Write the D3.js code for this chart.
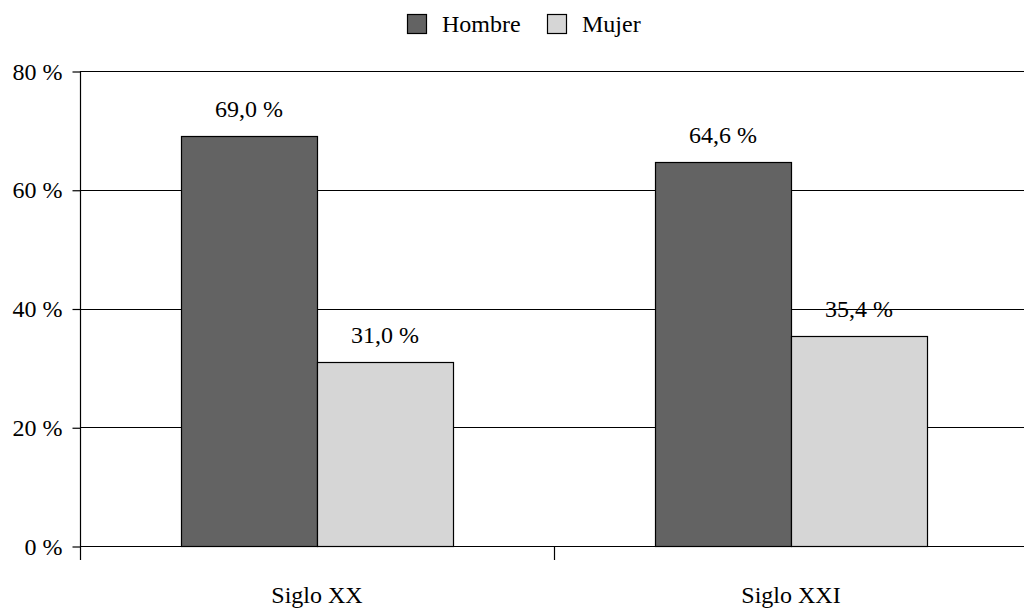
<!DOCTYPE html>
<html>
<head>
<meta charset="utf-8">
<script src="https://cdn.jsdelivr.net/npm/d3@7"></script>
<style>
  html, body { margin: 0; padding: 0; background: #fff; }
  svg { display: block; font-family: "Liberation Serif", "DejaVu Serif", serif; }
</style>
</head>
<body>
<svg id="chart" width="1024" height="611"></svg>
<script>
// Share of men and women by century
const categories = ["Siglo XX", "Siglo XXI"];
const seriesNames = ["Hombre", "Mujer"];
const hombre = [69.0, 64.6];
const mujer = [31.0, 35.4];
const yTicks = [0, 20, 40, 60, 80];
const colors = { Hombre: "#636363", Mujer: "#d6d6d6" };

const svg = d3.select("#chart");
const W = 1024, H = 611;
const plotLeft = 80, plotRight = 1028, plotTop = 71, plotBottom = 546;
const fontSize = 24;
const fmt = v => v.toFixed(1).replace(".", ",") + " %";

const x = d3.scaleBand().domain(categories).range([plotLeft, plotRight]).paddingInner(0).paddingOuter(0);
const inner = d3.scaleBand().domain(seriesNames).range([0, x.bandwidth()]).paddingInner(0).paddingOuter(0.7426);
const y = d3.scaleLinear().domain([0, 80]).range([plotBottom, plotTop]);

// Horizontal gridlines
svg.append("g").selectAll("line").data(yTicks).join("line")
  .attr("x1", plotLeft).attr("x2", W)
  .attr("y1", d => Math.round(y(d)) + 0.5).attr("y2", d => Math.round(y(d)) + 0.5)
  .attr("stroke", "#000").attr("stroke-width", 1.2);

// Y axis
const yAxis = d3.axisLeft(y).tickValues(yTicks).tickSize(8).tickPadding(10).tickFormat(d => d + " %");
const gy = svg.append("g").attr("transform", `translate(${plotLeft + 0.5},0.5)`).call(yAxis);
gy.select(".domain").remove();
gy.attr("font-size", fontSize).attr("font-family", "Liberation Serif, serif");
gy.selectAll(".tick line").attr("stroke", "#000").attr("stroke-width", 1.2);
gy.selectAll(".tick text").attr("fill", "#000");
svg.append("line").attr("x1", plotLeft + 0.5).attr("x2", plotLeft + 0.5)
  .attr("y1", plotTop).attr("y2", plotBottom + 14).attr("stroke", "#000").attr("stroke-width", 1.2);

// X axis category ticks and labels
const xBoundaries = categories.slice(1).map(c => x(c));
svg.append("g").selectAll("line").data(xBoundaries).join("line")
  .attr("x1", d => d + 0.5).attr("x2", d => d + 0.5)
  .attr("y1", plotBottom).attr("y2", plotBottom + 14)
  .attr("stroke", "#000").attr("stroke-width", 1.2);
svg.append("g").selectAll("text").data(categories).join("text")
  .attr("x", d => x(d) + x.bandwidth() / 2).attr("y", 603)
  .attr("text-anchor", "middle").attr("font-size", fontSize).attr("fill", "#000")
  .text(d => d);

// Bars
const rows = categories.map((c, i) => ({ cat: c, values: [
  { key: "Hombre", value: hombre[i] }, { key: "Mujer", value: mujer[i] } ] }));
const groups = svg.append("g").selectAll("g").data(rows).join("g")
  .attr("transform", d => `translate(${x(d.cat)},0)`);
groups.selectAll("rect").data(d => d.values).join("rect")
  .attr("x", d => Math.round(inner(d.key)) + 0.5)
  .attr("y", d => Math.round(y(d.value)) + 0.5)
  .attr("width", inner.bandwidth())
  .attr("height", d => y(0) - Math.round(y(d.value)))
  .attr("fill", d => colors[d.key]).attr("stroke", "#000").attr("stroke-width", 1.2);
groups.selectAll("text").data(d => d.values).join("text")
  .attr("x", d => inner(d.key) + inner.bandwidth() / 2)
  .attr("y", d => y(d.value) - 19)
  .attr("text-anchor", "middle").attr("font-size", fontSize).attr("fill", "#000")
  .text(d => fmt(d.value));

// Legend
const legend = svg.append("g");
const legendItems = [{ key: "Hombre", x: 407 }, { key: "Mujer", x: 547 }];
legendItems.forEach(it => {
  legend.append("rect").attr("x", it.x + 0.5).attr("y", 14.5).attr("width", 19).attr("height", 19)
    .attr("fill", colors[it.key]).attr("stroke", "#000").attr("stroke-width", 1.2);
  legend.append("text").attr("x", it.x + 35).attr("y", 32)
    .attr("font-size", fontSize).attr("fill", "#000").text(it.key);
});
</script>
</body>
</html>
